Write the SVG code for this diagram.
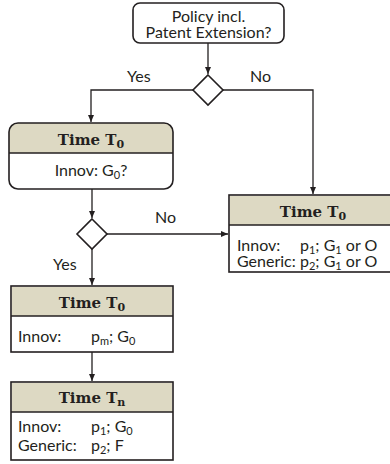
<svg xmlns="http://www.w3.org/2000/svg" width="390" height="464" viewBox="0 0 390 464">
  <style>
    .box { fill: #ffffff; stroke: #231f20; stroke-width: 1.6; }
    .frame { fill: none; stroke: #231f20; stroke-width: 1.6; }
    .head { fill: #ddd9c3; stroke: none; }
    .rule { stroke: #231f20; stroke-width: 1.3; fill: none; }
    .txt { font-family: Lato, "Open Sans", "Liberation Sans", sans-serif; font-size: 16px; fill: #231f20; }
    .ttl { font-family: "DejaVu Serif", "Liberation Serif", serif; font-weight: bold; font-size: 15px; fill: #231f20; }
    .sub { font-size: 11px; }
    .wire { stroke: #231f20; stroke-width: 1.3; fill: none; }
    .dia { fill: #ffffff; stroke: #231f20; stroke-width: 1.6; }
  </style>
  <defs>
    <marker id="arr" markerWidth="8" markerHeight="8" refX="7" refY="4" orient="auto" markerUnits="userSpaceOnUse">
      <path d="M0,1 L7,4 L0,7 Z" fill="#231f20"/>
    </marker>
  </defs>

  <!-- connectors -->
  <g id="connectors">
    <path class="wire" d="M208,43 V74" marker-end="url(#arr)"/>
    <path class="wire" d="M193,90 H91 V122" marker-end="url(#arr)"/>
    <path class="wire" d="M223,90 H313 V194" marker-end="url(#arr)"/>
    <path class="wire" d="M92,189 V218" marker-end="url(#arr)"/>
    <path class="wire" d="M107,234 H228" marker-end="url(#arr)"/>
    <path class="wire" d="M92,249 V285" marker-end="url(#arr)"/>
    <path class="wire" d="M92,352 V381" marker-end="url(#arr)"/>
    <text class="txt" x="127" y="82">Yes</text>
    <text class="txt" x="250" y="82">No</text>
    <text class="txt" x="155" y="223">No</text>
    <text class="txt" x="53" y="270">Yes</text>
  </g>

  <!-- start question -->
  <g id="policy">
    <rect class="box" x="133" y="3" width="151" height="40" rx="7"/>
    <text class="txt" x="208.5" y="22" text-anchor="middle">Policy incl.</text>
    <text class="txt" x="208.5" y="38" text-anchor="middle">Patent Extension?</text>
  </g>

  <g id="decision1">
    <path class="dia" d="M208,75 L223,90 L208,105 L193,90 Z"/>
  </g>

  <!-- left T0 question box -->
  <g id="t0-question">
    <path class="head" d="M9,153 V132 Q9,123 18,123 H164 Q173,123 173,132 V153 Z"/>
    <rect class="frame" x="9" y="123" width="164" height="66" rx="9"/>
    <line class="rule" x1="9" y1="153" x2="173" y2="153"/>
    <text class="ttl" x="91" y="145" text-anchor="middle">Time T<tspan class="sub" dy="2.5">0</tspan></text>
    <text class="txt" x="91" y="176" text-anchor="middle">Innov: G<tspan class="sub" dy="2.5">0</tspan><tspan dy="-2.5">?</tspan></text>
  </g>

  <g id="decision2">
    <path class="dia" d="M92,219 L107,234 L92,249 L77,234 Z"/>
  </g>

  <!-- right T0 outcome box -->
  <g id="t0-no-extension">
    <rect class="box" x="229" y="195" width="170" height="77"/>
    <rect class="head" x="230" y="196" width="168" height="29"/>
    <line class="rule" x1="229" y1="225" x2="399" y2="225"/>
    <text class="ttl" x="313" y="217" text-anchor="middle">Time T<tspan class="sub" dy="2.5">0</tspan></text>
    <text class="txt" x="237" y="251">Innov:</text>
    <text class="txt" x="300" y="251">p<tspan class="sub" dy="2.5">1</tspan><tspan dy="-2.5">; G</tspan><tspan class="sub" dy="2.5">1</tspan><tspan dy="-2.5"> or O</tspan></text>
    <text class="txt" x="237" y="267">Generic:</text>
    <text class="txt" x="300" y="267">p<tspan class="sub" dy="2.5">2</tspan><tspan dy="-2.5">; G</tspan><tspan class="sub" dy="2.5">1</tspan><tspan dy="-2.5"> or O</tspan></text>
  </g>

  <!-- left T0 monopoly box -->
  <g id="t0-monopoly">
    <rect class="box" x="11" y="286" width="162" height="66"/>
    <rect class="head" x="12" y="287" width="160" height="29"/>
    <line class="rule" x1="11" y1="316" x2="173" y2="316"/>
    <text class="ttl" x="92" y="308" text-anchor="middle">Time T<tspan class="sub" dy="2.5">0</tspan></text>
    <text class="txt" x="18" y="342">Innov:</text>
    <text class="txt" x="91" y="342">p<tspan class="sub" dy="2.5">m</tspan><tspan dy="-2.5">; G</tspan><tspan class="sub" dy="2.5">0</tspan></text>
  </g>

  <!-- Tn box -->
  <g id="tn">
    <rect class="box" x="11" y="382" width="162" height="78"/>
    <rect class="head" x="12" y="383" width="160" height="29"/>
    <line class="rule" x1="11" y1="412" x2="173" y2="412"/>
    <text class="ttl" x="92" y="403" text-anchor="middle">Time T<tspan class="sub" dy="2.5">n</tspan></text>
    <text class="txt" x="18" y="432">Innov:</text>
    <text class="txt" x="91" y="432">p<tspan class="sub" dy="2.5">1</tspan><tspan dy="-2.5">; G</tspan><tspan class="sub" dy="2.5">0</tspan></text>
    <text class="txt" x="18" y="451">Generic:</text>
    <text class="txt" x="91" y="451">p<tspan class="sub" dy="2.5">2</tspan><tspan dy="-2.5">; F</tspan></text>
  </g>
</svg>
